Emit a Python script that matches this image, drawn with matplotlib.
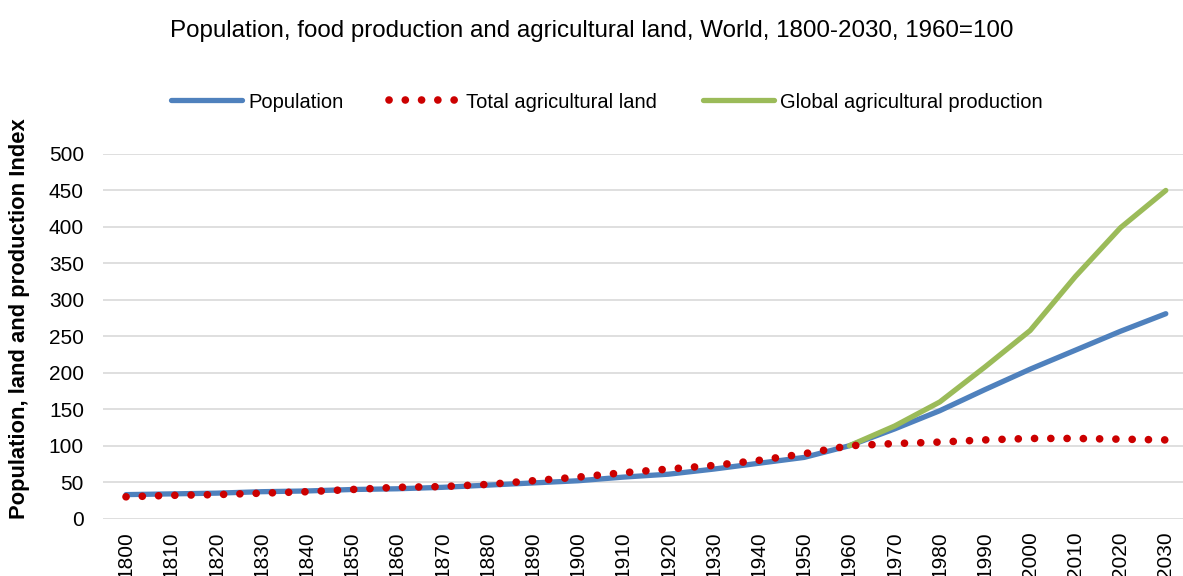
import matplotlib.pyplot as plt

years = ['1800', '1810', '1820', '1830', '1840', '1850', '1860', '1870', '1880', '1890',
         '1900', '1910', '1920', '1930', '1940', '1950', '1960', '1970', '1980', '1990',
         '2000', '2010', '2020', '2030']

population = [33, 34, 35, 37, 38, 40, 41, 43, 46, 49, 52, 57, 61, 68, 76, 84, 100,
              123, 148, 177, 205, 231, 257, 281]
agri_land = [30, 32, 33, 35, 37, 40, 43, 44, 47, 52, 57, 63, 68, 73, 80, 89, 100,
             103, 105, 108, 110, 110, 109, 108]
# production only starts in 1960
prod_years = years[16:]
production = [100, 127, 160, 208, 258, 332, 399, 450]

plt.rcParams['font.family'] = ['Liberation Sans', 'DejaVu Sans']

fig = plt.figure(figsize=(11.83, 5.76), dpi=100)
ax = fig.add_axes([103.4 / 1183, 0.0995, 1085 / 1183, 0.6332])

x = list(range(len(years)))
ax.plot(x, population, color='#4F81BD', lw=3.8, solid_capstyle='round', label='Population', zorder=3)
ax.plot(x, agri_land, color='#CC0000', lw=5.5, linestyle=(0, (0.01, 2.12)),
        dash_capstyle='round', label='Total agricultural land', zorder=4)
ax.plot(x[16:], production, color='#9BBB59', lw=3.8, solid_capstyle='round',
        label='Global agricultural production', zorder=3)

ax.set_xlim(-0.5, len(years) - 0.5)
ax.set_ylim(0, 500)
ax.set_yticks(range(0, 501, 50))
ax.set_xticks(x)
ax.set_xticklabels(years, rotation=90)
ax.tick_params(length=0, labelsize=15)
ax.tick_params(axis='x', pad=9)
ax.tick_params(axis='y', pad=14)
ax.grid(axis='y', color='#D9D9D9', lw=1.2)
ax.set_axisbelow(True)
for s in ax.spines.values():
    s.set_visible(False)

ax.set_ylabel('Population, land and production Index', fontsize=15.8, fontweight='bold')
ax.yaxis.set_label_coords(-0.0677, 0.548)

fig.suptitle('Population, food production and agricultural land, World, 1800-2030, 1960=100',
             fontsize=17.4, y=0.966)
fig.legend(loc='center', bbox_to_anchor=(0.513, 1 - 102 / 576), ncol=3, frameon=False,
           fontsize=14.5, handlelength=3.5, handletextpad=0.3, columnspacing=2.3)

fig.savefig('out.png', dpi=100)
